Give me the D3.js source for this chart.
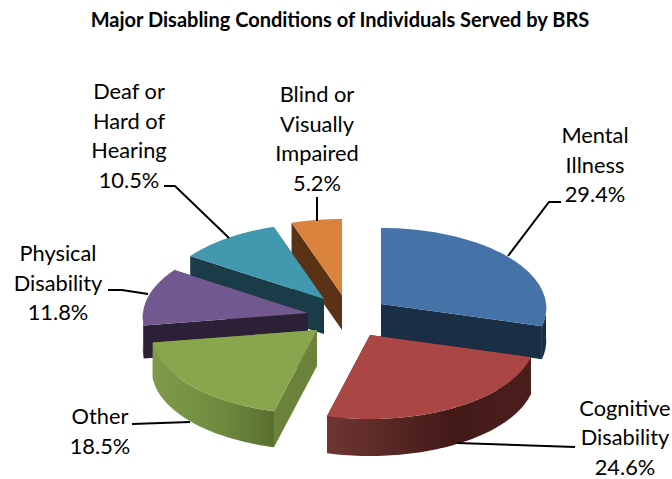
<!DOCTYPE html>
<html>
    <head>
        <title>Major Disabling Conditions</title>
        <style>
         body { margin: 0; background: #fff; }
         svg { display: block; }
         text { font-family: Lato, "Open Sans", sans-serif; fill: #000; }
         .title { font-size: 20px; font-weight: bold; }
         .label { font-size: 21.8px; }
         .leader { fill: none; stroke: #000; stroke-width: 2px; }
        </style>
    </head>
    <body>
        <svg width="672" height="479"></svg>

        <script src="https://cdn.jsdelivr.net/npm/d3@7"></script>
        <script>

         // chart data
         var titleText = 'Major Disabling Conditions of Individuals Served by BRS';
         var categories = ['Mental Illness', 'Cognitive Disability', 'Other', 'Physical Disability', 'Deaf or Hard of Hearing', 'Blind or Visually Impaired'];
         var labelLines = [['Mental', 'Illness'], ['Cognitive', 'Disability'], ['Other'], ['Physical', 'Disability'], ['Deaf or', 'Hard of', 'Hearing'], ['Blind or', 'Visually', 'Impaired']];
         var percents = [29.4, 24.6, 18.5, 11.8, 10.5, 5.2];

         // colours, one list for each face of a slice
         var topColors = ['#4572a7', '#aa4643', '#89a54e', '#71588f', '#4198af', '#d9833e'];
         var faceColors = ['#1a2e45', '#431a18', '#6c833b', '#2c2036', '#1a3c48', '#5a3316'];
         var wallColors = [['#1a2e45', '#1a2e45', '#1a2e45'], ['#6f3533', '#431a18', '#4b1e1c'], ['#7f9b4a', '#6d893d', '#5a6f31'], ['#2c2036', '#2c2036', '#2c2036'], ['#1a3c48', '#1a3c48', '#1a3c48'], ['#5a3316', '#5a3316', '#5a3316']];

         // layout of the exploded slices
         var center = [345, 315];
         var explode = [[36, -11], [25, 20], [-28, 15], [-37, -2], [-21, -16], [-3, -20]];
         var depths = [33, 37, 36, 33, 35, 35];
         var drawOrder = [5, 4, 3, 2, 0, 1];
         var radiusX = 165;
         var radiusY = 80;
         var perspective = 0.05;

         // label layout: x centre, first baseline, leader line
         var labelX = [595, 625, 100, 58, 129, 317];
         var labelY = [143, 415.5, 424, 261, 99, 102];
         var leaders = [
             [[561, 202], [549, 202], [508, 256]],
             [[575, 447], [457, 443]],
             [[132, 424], [190, 422]],
             [[108, 290], [122, 290], [148, 294]],
             [[164, 186], [175, 186], [229, 238]],
             [[317, 197], [317, 221]]
         ];
         var lineStep = 29.5;

         var svg = d3.select('svg');
         var defs = svg.append('defs');

         var color = d3.scaleOrdinal().domain(categories).range(topColors);
         var pie = d3.pie().sort(null).value(function(d) { return d; });
         var slices = pie(percents);
         var line = d3.line();

         // clockwise from north, flat disc tilted towards the viewer
         function project(angle) {
             var px = Math.sin(angle);
             var py = -Math.cos(angle);
             var s = 1 + perspective * py;
             return [radiusX * px * s, radiusY * py * s];
         }

         function rim(a0, a1) {
             var n = Math.max(2, Math.ceil((a1 - a0) * 40));
             return d3.range(n + 1).map(function(i) {
                 return project(a0 + (a1 - a0) * i / n);
             });
         }

         function drop(points, h) {
             return points.map(function(p) { return [p[0], p[1] + h]; }).reverse();
         }

         drawOrder.forEach(function(i) {
             var d = slices[i];
             var h = depths[i];
             var apex = [center[0] + explode[i][0], center[1] + explode[i][1]];
             var g = svg.append('g')
                        .attr('class', 'slice')
                        .attr('transform', 'translate(' + apex[0] + ',' + apex[1] + ')');

             // cut faces
             [d.endAngle, d.startAngle].forEach(function(a) {
                 var edge = [[0, 0], project(a)];
                 g.append('path')
                  .attr('d', line(edge.concat(drop(edge, h))) + 'Z')
                  .attr('fill', faceColors[i]);
             });

             // outer wall, only the part that faces front
             var a0 = Math.max(d.startAngle, Math.PI / 2);
             var a1 = Math.min(d.endAngle, Math.PI * 1.5);
             if (a1 > a0) {
                 var id = 'wall' + i;
                 var grad = defs.append('linearGradient').attr('id', id);
                 // the gradient runs left to right across the wall
                 grad.selectAll('stop')
                     .data(wallColors[i])
                     .enter()
                     .append('stop')
                     .attr('offset', function(c, j) { return j === 1 ? '60%' : (j * 50) + '%'; })
                     .attr('stop-color', function(c) { return c; });
                 var edge = rim(a0, a1);
                 g.append('path')
                  .attr('d', line(edge.concat(drop(edge, h))) + 'Z')
                  .attr('fill', 'url(#' + id + ')');
             }

             // top of the slice
             g.append('path')
              .attr('d', line([[0, 0]].concat(rim(d.startAngle, d.endAngle))) + 'Z')
              .attr('fill', color(categories[i]));
         });

         // leader lines
         svg.append('g')
            .selectAll('path')
            .data(leaders)
            .enter()
            .append('path')
            .attr('class', 'leader')
            .attr('d', function(d) { return line(d); });

         // labels
         var label = svg.append('g')
                        .selectAll('text')
                        .data(percents)
                        .enter()
                        .append('text')
                        .attr('class', 'label')
                        .attr('text-anchor', 'middle');

         label.each(function(d, i) {
             var rows = labelLines[i].concat([d3.format('.1f')(d) + '%']);
             d3.select(this)
               .selectAll('tspan')
               .data(rows)
               .enter()
               .append('tspan')
               .attr('x', labelX[i])
               .attr('y', function(r, j) { return labelY[i] + j * lineStep; })
               .text(function(r) { return r; });
         });

         svg.append('text')
            .attr('class', 'title')
            .attr('x', 340)
            .attr('y', 27)
            .attr('text-anchor', 'middle')
            .text(titleText);

        </script>
    </body>
</html>
